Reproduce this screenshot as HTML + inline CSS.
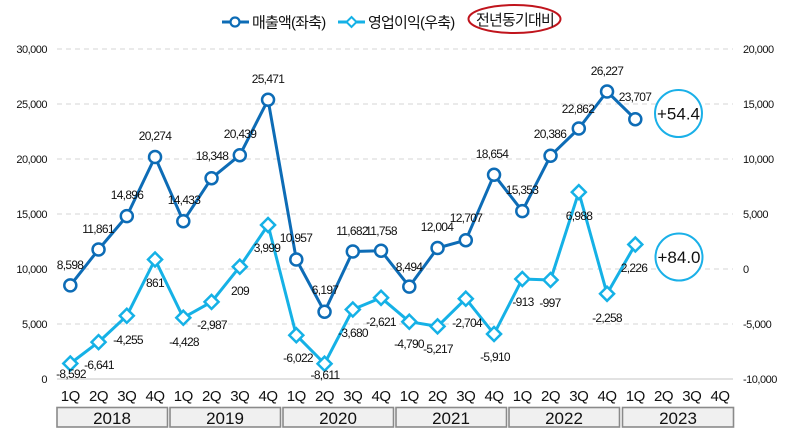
<!DOCTYPE html>
<html><head><meta charset="utf-8"><style>
html,body{margin:0;padding:0;background:#fff;}
svg{display:block;}
text{font-family:"Liberation Sans","Noto Sans CJK KR",sans-serif;fill:#111;}
.n{font-size:12px;letter-spacing:-0.7px;text-anchor:middle;}
.al{font-size:11px;letter-spacing:-0.5px;}
.q{font-size:15px;text-anchor:middle;letter-spacing:-0.5px;}
.y{font-size:17px;text-anchor:middle;}
</style></head><body>
<svg width="788" height="440" viewBox="0 0 788 440" xmlns="http://www.w3.org/2000/svg">
<!-- gridlines -->
<g stroke="#d4d4d4" stroke-width="1" stroke-dasharray="5,4">
<line x1="57" y1="49" x2="733" y2="49"/>
<line x1="57" y1="104" x2="733" y2="104"/>
<line x1="57" y1="159" x2="733" y2="159"/>
<line x1="57" y1="214" x2="733" y2="214"/>
<line x1="57" y1="269" x2="733" y2="269"/>
<line x1="57" y1="324" x2="733" y2="324"/>
</g>
<line x1="57" y1="379" x2="733" y2="379" stroke="#d0d0d0" stroke-width="1.2"/>
<!-- left axis -->
<g class="al" text-anchor="end">
<text x="47" y="53">30,000</text>
<text x="47" y="108">25,000</text>
<text x="47" y="163">20,000</text>
<text x="47" y="218">15,000</text>
<text x="47" y="273">10,000</text>
<text x="47" y="328">5,000</text>
<text x="47" y="383">0</text>
</g>
<g class="al" text-anchor="start">
<text x="743" y="53">20,000</text>
<text x="743" y="108">15,000</text>
<text x="743" y="163">10,000</text>
<text x="743" y="218">5,000</text>
<text x="743" y="273">0</text>
<text x="743" y="328">-5,000</text>
<text x="743" y="383">-10,000</text>
</g>
<!-- dark series -->
<polyline fill="none" stroke="#0d6cb6" stroke-width="3" stroke-linejoin="round" points="70.3,285.4 98.55,249.5 126.8,216.1 155.05,157 183.3,221.2 211.55,178.2 239.8,155.2 268.05,99.8 296.3,259.5 324.55,311.8 352.8,251.5 381.05,250.7 409.3,286.6 437.55,248 465.8,240.2 494.05,174.8 522.3,211.1 550.55,155.8 578.8,128.5 607.05,91.5 635.3,119.2"/>
<g fill="#fff" stroke="#0d6cb6" stroke-width="2.5">
<circle cx="70.3" cy="285.4" r="6"/><circle cx="98.55" cy="249.5" r="6"/><circle cx="126.8" cy="216.1" r="6"/><circle cx="155.05" cy="157" r="6"/><circle cx="183.3" cy="221.2" r="6"/><circle cx="211.55" cy="178.2" r="6"/><circle cx="239.8" cy="155.2" r="6"/><circle cx="268.05" cy="99.8" r="6"/><circle cx="296.3" cy="259.5" r="6"/><circle cx="324.55" cy="311.8" r="6"/><circle cx="352.8" cy="251.5" r="6"/><circle cx="381.05" cy="250.7" r="6"/><circle cx="409.3" cy="286.6" r="6"/><circle cx="437.55" cy="248" r="6"/><circle cx="465.8" cy="240.2" r="6"/><circle cx="494.05" cy="174.8" r="6"/><circle cx="522.3" cy="211.1" r="6"/><circle cx="550.55" cy="155.8" r="6"/><circle cx="578.8" cy="128.5" r="6"/><circle cx="607.05" cy="91.5" r="6"/><circle cx="635.3" cy="119.2" r="6"/>
</g>
<!-- light series -->
<polyline fill="none" stroke="#15b1e6" stroke-width="3" stroke-linejoin="round" points="70.3,363.5 98.55,342.1 126.8,315.8 155.05,259.5 183.3,317.7 211.55,301.9 239.8,266.7 268.05,225 296.3,335.2 324.55,363.7 352.8,309.5 381.05,297.8 409.3,321.7 437.55,326.4 465.8,298.7 494.05,334 522.3,279 550.55,280 578.8,192.1 607.05,293.8 635.3,244.5"/>
<g fill="#fff" stroke="#15b1e6" stroke-width="2.5">
<path d="M70.3,356.5 l7,7 l-7,7 l-7,-7z"/><path d="M98.55,335.1 l7,7 l-7,7 l-7,-7z"/><path d="M126.8,308.8 l7,7 l-7,7 l-7,-7z"/><path d="M155.05,252.5 l7,7 l-7,7 l-7,-7z"/><path d="M183.3,310.7 l7,7 l-7,7 l-7,-7z"/><path d="M211.55,294.9 l7,7 l-7,7 l-7,-7z"/><path d="M239.8,259.7 l7,7 l-7,7 l-7,-7z"/><path d="M268.05,218 l7,7 l-7,7 l-7,-7z"/><path d="M296.3,328.2 l7,7 l-7,7 l-7,-7z"/><path d="M324.55,356.7 l7,7 l-7,7 l-7,-7z"/><path d="M352.8,302.5 l7,7 l-7,7 l-7,-7z"/><path d="M381.05,290.8 l7,7 l-7,7 l-7,-7z"/><path d="M409.3,314.7 l7,7 l-7,7 l-7,-7z"/><path d="M437.55,319.4 l7,7 l-7,7 l-7,-7z"/><path d="M465.8,291.7 l7,7 l-7,7 l-7,-7z"/><path d="M494.05,327 l7,7 l-7,7 l-7,-7z"/><path d="M522.3,272 l7,7 l-7,7 l-7,-7z"/><path d="M550.55,273 l7,7 l-7,7 l-7,-7z"/><path d="M578.8,185.1 l7,7 l-7,7 l-7,-7z"/><path d="M607.05,286.8 l7,7 l-7,7 l-7,-7z"/><path d="M635.3,237.5 l7,7 l-7,7 l-7,-7z"/>
</g>
<!-- dark labels -->
<g class="n">
<text x="70" y="269">8,598</text>
<text x="98" y="233">11,861</text>
<text x="127" y="199">14,896</text>
<text x="155" y="140">20,274</text>
<text x="184" y="204">14,433</text>
<text x="212" y="160">18,348</text>
<text x="240" y="138">20,439</text>
<text x="268" y="83">25,471</text>
<text x="296" y="242">10,957</text>
<text x="325" y="294">6,197</text>
<text x="352" y="235">11,682</text>
<text x="381" y="235">11,758</text>
<text x="409" y="271">8,494</text>
<text x="437" y="231">12,004</text>
<text x="466" y="222">12,707</text>
<text x="492" y="158">18,654</text>
<text x="522" y="194">15,353</text>
<text x="550" y="138">20,386</text>
<text x="578" y="113">22,862</text>
<text x="607" y="75">26,227</text>
<text x="635" y="101">23,707</text>
</g>
<!-- light labels -->
<g class="n">
<text x="71" y="378">-8,592</text>
<text x="99" y="369">-6,641</text>
<text x="128" y="344">-4,255</text>
<text x="155" y="287">861</text>
<text x="184" y="346">-4,428</text>
<text x="212" y="329">-2,987</text>
<text x="240" y="295">209</text>
<text x="267" y="252">3,999</text>
<text x="298" y="362">-6,022</text>
<text x="325" y="379">-8,611</text>
<text x="353" y="337">-3,680</text>
<text x="381" y="326">-2,621</text>
<text x="409" y="348">-4,790</text>
<text x="438" y="353">-5,217</text>
<text x="467" y="327">-2,704</text>
<text x="495" y="361">-5,910</text>
<text x="523" y="306">-913</text>
<text x="550" y="307">-997</text>
<text x="579" y="220">6,988</text>
<text x="607" y="322">-2,258</text>
<text x="634" y="272">2,226</text>
</g>
<!-- YoY circles -->
<circle cx="678.5" cy="113.5" r="23.5" fill="#fff" stroke="#1ab0e8" stroke-width="2"/>
<text x="678.5" y="119.5" font-size="17" text-anchor="middle">+54.4</text>
<circle cx="679" cy="257" r="23.5" fill="#fff" stroke="#1ab0e8" stroke-width="2"/>
<text x="679" y="263" font-size="17" text-anchor="middle">+84.0</text>
<!-- quarter labels -->
<g class="q">
<text x="70.3" y="401">1Q</text><text x="98.55" y="401">2Q</text><text x="126.8" y="401">3Q</text><text x="155.05" y="401">4Q</text>
<text x="183.3" y="401">1Q</text><text x="211.55" y="401">2Q</text><text x="239.8" y="401">3Q</text><text x="268.05" y="401">4Q</text>
<text x="296.3" y="401">1Q</text><text x="324.55" y="401">2Q</text><text x="352.8" y="401">3Q</text><text x="381.05" y="401">4Q</text>
<text x="409.3" y="401">1Q</text><text x="437.55" y="401">2Q</text><text x="465.8" y="401">3Q</text><text x="494.05" y="401">4Q</text>
<text x="522.3" y="401">1Q</text><text x="550.55" y="401">2Q</text><text x="578.8" y="401">3Q</text><text x="607.05" y="401">4Q</text>
<text x="635.3" y="401">1Q</text><text x="663.55" y="401">2Q</text><text x="691.8" y="401">3Q</text><text x="720.05" y="401">4Q</text>
</g>
<!-- year boxes -->
<g fill="#f0f0f0" stroke="#8a8a8a" stroke-width="1.6">
<rect x="57" y="407.5" width="110.5" height="19.5"/>
<rect x="170" y="407.5" width="110.5" height="19.5"/>
<rect x="283" y="407.5" width="110.5" height="19.5"/>
<rect x="396" y="407.5" width="110.5" height="19.5"/>
<rect x="509" y="407.5" width="110.5" height="19.5"/>
<rect x="622.5" y="407.5" width="111" height="19.5"/>
</g>
<g class="y">
<text x="112" y="424">2018</text>
<text x="225" y="424">2019</text>
<text x="338" y="424">2020</text>
<text x="451" y="424">2021</text>
<text x="564" y="424">2022</text>
<text x="678" y="424">2023</text>
</g>
<!-- legend -->
<line x1="222" y1="22" x2="249" y2="22" stroke="#0d6cb6" stroke-width="3"/>
<circle cx="235" cy="22" r="4.5" fill="#fff" stroke="#0d6cb6" stroke-width="2.2"/>
<text x="252" y="27.5" font-size="15" letter-spacing="-0.8">매출액(좌축)</text>
<line x1="338" y1="22" x2="365" y2="22" stroke="#15b1e6" stroke-width="3"/>
<path d="M351.5,17 l5,5 l-5,5 l-5,-5z" fill="#fff" stroke="#15b1e6" stroke-width="2"/>
<text x="368" y="27.5" font-size="15" letter-spacing="-0.8">영업이익(우축)</text>
<ellipse cx="514.5" cy="19" rx="46" ry="14" fill="none" stroke="#c0141c" stroke-width="2"/>
<text x="515" y="25" font-size="15" letter-spacing="-0.8" text-anchor="middle">전년동기대비</text>
</svg>
</body></html>
